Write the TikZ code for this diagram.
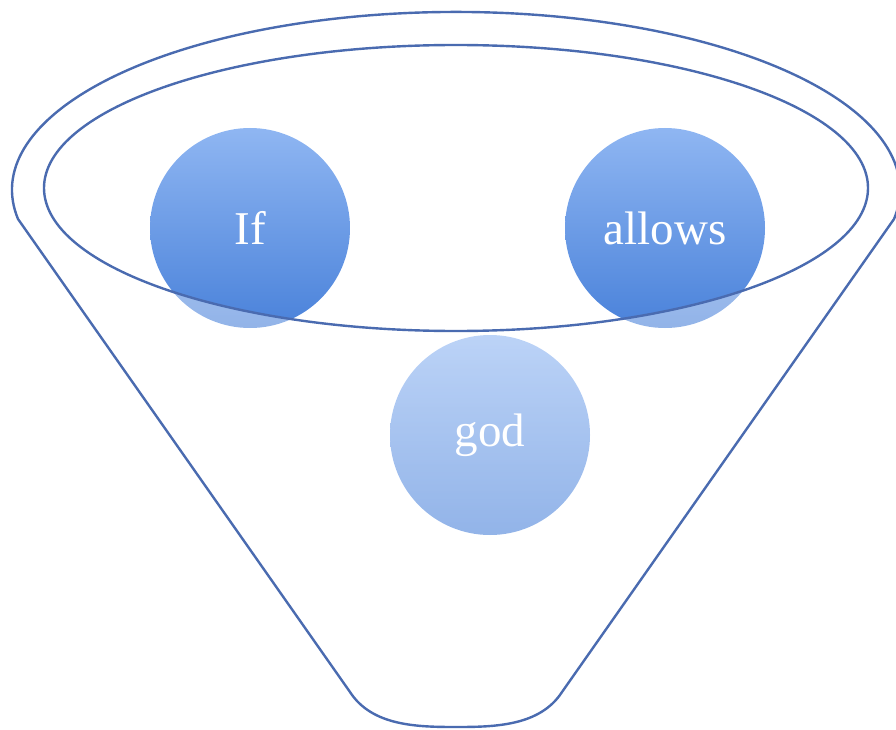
\documentclass[tikz,border=0pt]{standalone}
\usepackage{fontspec}
\setmainfont{Liberation Serif}
\usepackage{tikz}
\usetikzlibrary{positioning}

\definecolor{funnelline}{HTML}{4A6BB0}
\definecolor{bubbletop}{HTML}{8FB6F2}
\definecolor{bubblebot}{HTML}{4A82DA}

\begin{document}
\begin{tikzpicture}[
    x=1pt, y=1pt,
    bubble/.style={circle, minimum size=200pt, inner sep=0pt, shade, top color=bubbletop, bottom color=bubblebot, text=white, font=\fontsize{47}{50}\selectfont},
    rim/.style={draw=funnelline, line width=2.4pt},
    veil/.style={fill=white, fill opacity=0.4, even odd rule}
]
\useasboundingbox (0,0) rectangle (896,-730);

% Words in the funnel
\node[bubble] (if) at (250,-228) {If};
\node[bubble] (allows) at (665,-228) {allows};
\node[bubble] (god) at (490,-435) {god};

% Funnel body veils what lies below the rim
\path[veil] (18,-219) arc[start angle=189.4, end angle=-9.4, x radius=444pt, y radius=178pt]
    -- (562,-692) .. controls (540,-726) and (495,-727) .. (456,-727)
    .. controls (417,-727) and (372,-726) .. (350,-692) -- cycle
    (456,-188) ellipse[x radius=412pt, y radius=143pt];

% Outer funnel
\draw[rim] (18,-219) arc[start angle=189.4, end angle=-9.4, x radius=444pt, y radius=178pt]
    -- (562,-692) .. controls (540,-726) and (495,-727) .. (456,-727)
    .. controls (417,-727) and (372,-726) .. (350,-692) -- cycle;

% Inner rim
\draw[rim] (456,-188) ellipse[x radius=412pt, y radius=143pt];

\end{tikzpicture}
\end{document}
